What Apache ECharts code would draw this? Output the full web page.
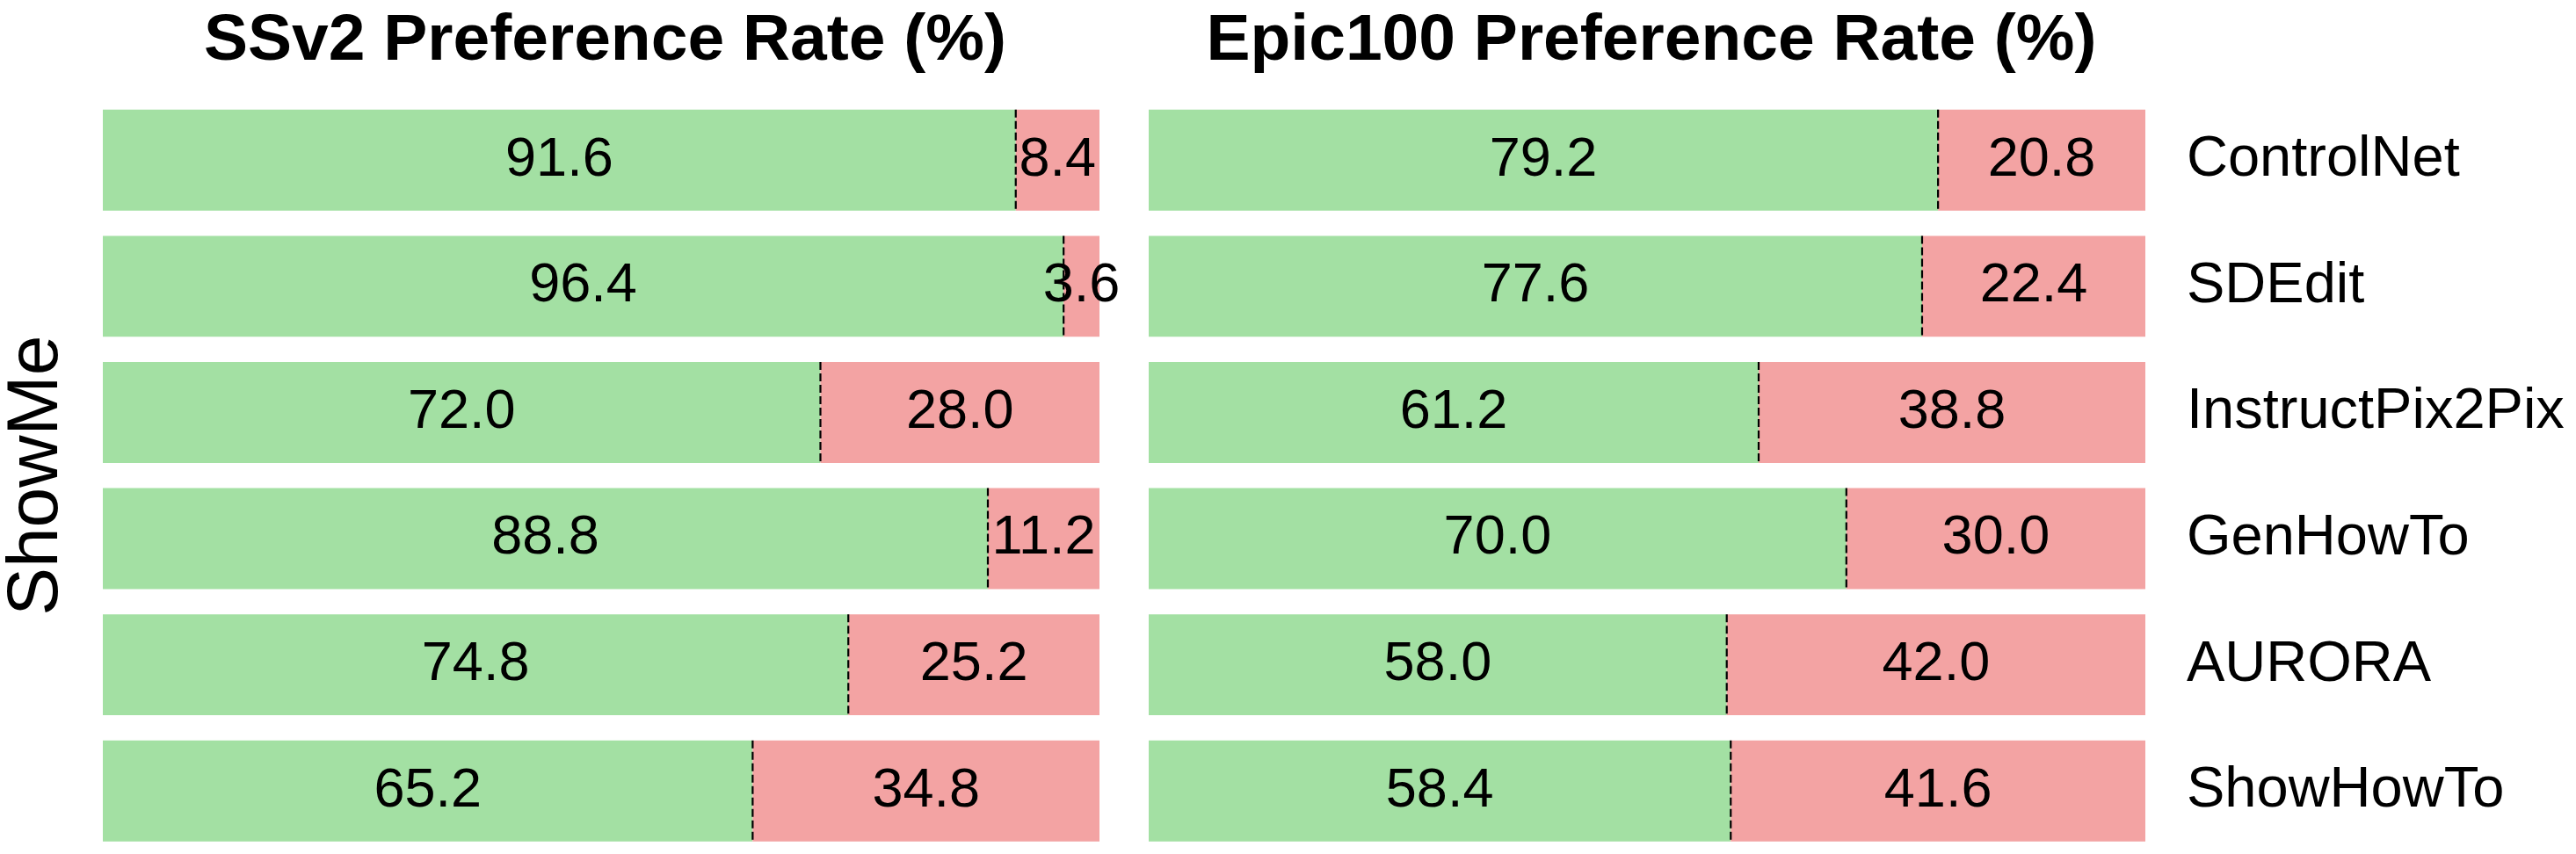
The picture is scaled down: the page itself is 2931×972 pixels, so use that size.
<!DOCTYPE html>
<html>
<head>
<meta charset="utf-8">
<script src="https://cdn.jsdelivr.net/npm/echarts@6/dist/echarts.min.js"></script>
<style>
html,body{margin:0;padding:0;background:#fff;}
#chart{width:2931px;height:972px;}
</style>
</head>
<body>
<div id="chart"></div>
<script>
const categories = ['ControlNet', 'SDEdit', 'InstructPix2Pix', 'GenHowTo', 'AURORA', 'ShowHowTo'];
const ssv2Win = [91.6, 96.4, 72.0, 88.8, 74.8, 65.2];
const ssv2Lose = [8.4, 3.6, 28.0, 11.2, 25.2, 34.8];
const epicWin = [79.2, 77.6, 61.2, 70.0, 58.0, 58.4];
const epicLose = [20.8, 22.4, 38.8, 30.0, 42.0, 41.6];
const panelTitles = ['SSv2 Preference Rate (%)', 'Epic100 Preference Rate (%)'];
const yName = 'ShowMe';

const GREEN = '#a3e0a3';
const RED = '#f3a3a3';
const FONT = 'Liberation Sans, Arial, Helvetica, sans-serif';

const chart = echarts.init(document.getElementById('chart'), null, {renderer: 'canvas'});

const grids = [
  {left: 116, width: 1135, top: 110.5, height: 870},
  {left: 1307, width: 1134, top: 110.5, height: 870}
];

function labelOpt() {
  return {
    show: true, position: 'inside', color: '#000', fontSize: 63, fontFamily: FONT,
    formatter: p => Number(p.value).toFixed(1)
  };
}

function dashSeries(idx, win) {
  return {
    type: 'custom', xAxisIndex: idx, yAxisIndex: idx, z: 5,
    data: win.map((v, i) => [v, i]),
    renderItem: function (params, api) {
      const c = api.coord([api.value(0), api.value(1)]);
      const h = api.size([0, 1])[1] * 0.8;
      return {
        type: 'line',
        shape: {x1: c[0], y1: c[1] - h / 2, x2: c[0], y2: c[1] + h / 2},
        style: {stroke: '#000', lineWidth: 2.2, lineDash: [9, 4]}
      };
    }
  };
}

function barSeries(idx, win, lose) {
  return [
    {type: 'bar', xAxisIndex: idx, yAxisIndex: idx, stack: 's' + idx, data: win,
     barCategoryGap: '20%', itemStyle: {color: GREEN}, label: labelOpt()},
    {type: 'bar', xAxisIndex: idx, yAxisIndex: idx, stack: 's' + idx, data: lose,
     barCategoryGap: '20%', itemStyle: {color: RED}, label: labelOpt()}
  ];
}

const option = {
  animation: false,
  backgroundColor: '#fff',
  title: panelTitles.map((t, i) => ({
    text: t,
    left: grids[i].left + grids[i].width / 2,
    textAlign: 'center',
    top: 5,
    textStyle: {fontSize: 75, fontWeight: 'bold', fontFamily: FONT, color: '#000'}
  })),
  grid: grids,
  xAxis: grids.map((g, i) => ({
    type: 'value', gridIndex: i, min: 0, max: 100, show: false
  })),
  yAxis: [
    {type: 'category', gridIndex: 0, data: categories, inverse: true,
     axisLine: {show: false}, axisTick: {show: false}, axisLabel: {show: false},
     name: yName, nameLocation: 'middle', nameRotate: 90, nameGap: 34,
     nameTextStyle: {fontSize: 82, fontFamily: FONT, color: '#000'}},
    {type: 'category', gridIndex: 1, data: categories, inverse: true, position: 'right',
     axisLine: {show: false}, axisTick: {show: false},
     axisLabel: {show: true, margin: 47, fontSize: 65, fontFamily: FONT, color: '#000', align: 'left'}}
  ],
  series: [
    ...barSeries(0, ssv2Win, ssv2Lose),
    ...barSeries(1, epicWin, epicLose),
    dashSeries(0, ssv2Win),
    dashSeries(1, epicWin)
  ]
};
chart.setOption(option);
</script>
</body>
</html>
